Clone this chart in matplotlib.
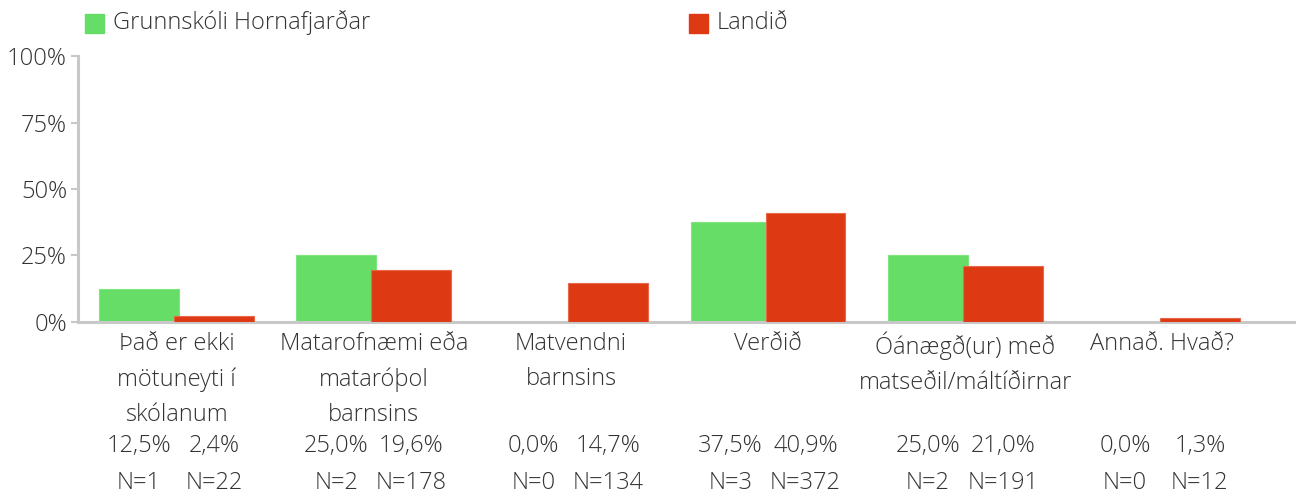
import matplotlib.pyplot as plt
import matplotlib.transforms as mtransforms
from matplotlib.patches import Rectangle
import numpy as np

plt.rcParams['font.family'] = ['Open Sans', 'DejaVu Sans']
plt.rcParams['font.weight'] = 'light'

categories = ["Það er ekki\nmötuneyti í\nskólanum",
              "Matarofnæmi eða\nmataróþol\nbarnsins",
              "Matvendni\nbarnsins",
              "Verðið",
              "Óánægð(ur) með\nmatseðil/máltíðirnar",
              "Annað. Hvað?"]
school = [12.5, 25.0, 0.0, 37.5, 25.0, 0.0]
country = [2.4, 19.6, 14.7, 40.9, 21.0, 1.3]
school_n = [1, 2, 0, 3, 2, 0]
country_n = [22, 178, 134, 372, 191, 12]
series_names = ["Grunnskóli Hornafjarðar", "Landið"]

green = "#66dd66"
red = "#dd3a14"
text_col = "#333333"
axis_col = "#c8c8c8"
fs = 17

W, H = 1301, 496
fig = plt.figure(figsize=(W / 100, H / 100), dpi=100)
ax = fig.add_axes([0.06, 0.351, 0.935, 0.536])

x = np.arange(len(categories))
w = 0.405
off = 0.19
ax.bar(x - off, school, w, color=green, edgecolor="#7ee67e", linewidth=0.8, zorder=2)
ax.bar(x + off, country, w, color=red, edgecolor="#e8684a", linewidth=0.8, zorder=3)

ax.set_ylim(0, 100)
ax.set_xlim(-0.5, 5.67)
ax.set_yticks([0, 25, 50, 75, 100])
ax.set_yticklabels(["0%", "25%", "50%", "75%", "100%"], fontsize=fs, color=text_col)
ax.set_xticks(x)
ax.set_xticklabels(categories, fontsize=fs, color=text_col, linespacing=1.62, va="top")
ax.tick_params(axis="x", length=0, pad=7)
ax.tick_params(axis="y", length=5, width=1.5, color=axis_col, pad=3)

for s in ["top", "right"]:
    ax.spines[s].set_visible(False)
for s in ["left", "bottom"]:
    ax.spines[s].set_color(axis_col)
    ax.spines[s].set_linewidth(2.2)

# value and count rows under each bar
tr = mtransforms.blended_transform_factory(ax.transData, fig.transFigure)
for i in range(len(categories)):
    for dx, v, n in [(-off, school[i], school_n[i]), (off, country[i], country_n[i])]:
        ax.text(x[i] + dx, 0.100, f"{v:.1f}%".replace(".", ","), transform=tr,
                ha="center", va="center", fontsize=fs, color=text_col)
        ax.text(x[i] + dx, 0.026, f"N={n}", transform=tr,
                ha="center", va="center", fontsize=fs, color=text_col)

# legend along the top
for (px, name, col) in [(85, series_names[0], green), (689, series_names[1], red)]:
    fig.add_artist(Rectangle((px / W, 1 - 33 / H), 19 / W, 19 / H,
                             transform=fig.transFigure, color=col))
    fig.text((px + 28) / W, 1 - 23 / H, name, color=text_col, fontsize=fs,
             va="center", ha="left")

fig.savefig("out.png", dpi=100)
